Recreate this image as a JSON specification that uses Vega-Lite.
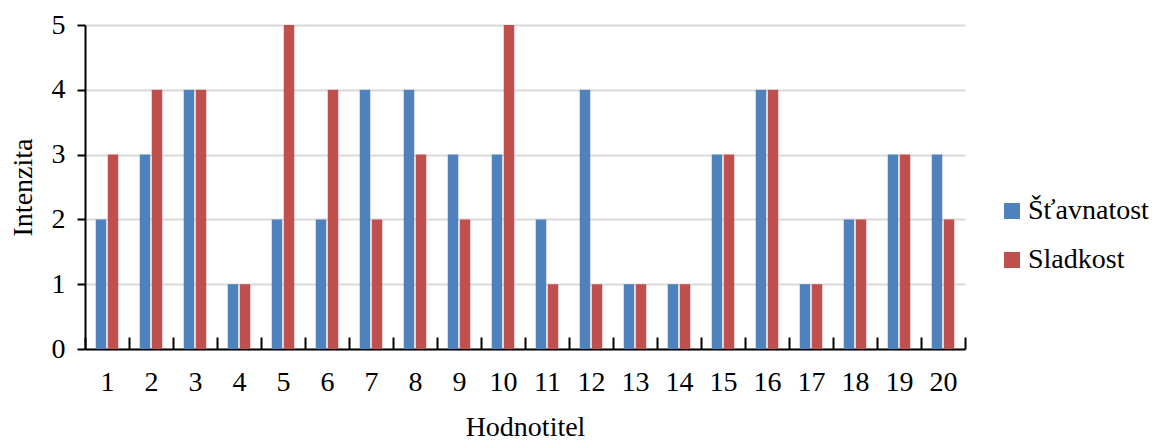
{
  "$schema": "https://vega.github.io/schema/vega-lite/v6.json",
  "autosize": {"type": "none"},
  "width": 880,
  "height": 324,
  "padding": {"left": 85, "top": 25, "right": 193, "bottom": 91},
  "background": "white",
  "config": {
    "font": "Liberation Serif",
    "view": {"stroke": null},
    "axis": {"labelFont": "Liberation Serif", "titleFont": "Liberation Serif"},
    "legend": {"labelFont": "Liberation Serif", "titleFont": "Liberation Serif"}
  },
  "data": {
    "values": [
      {"h": 1, "s": "Šťavnatost", "v": 2}, {"h": 1, "s": "Sladkost", "v": 3},
      {"h": 2, "s": "Šťavnatost", "v": 3}, {"h": 2, "s": "Sladkost", "v": 4},
      {"h": 3, "s": "Šťavnatost", "v": 4}, {"h": 3, "s": "Sladkost", "v": 4},
      {"h": 4, "s": "Šťavnatost", "v": 1}, {"h": 4, "s": "Sladkost", "v": 1},
      {"h": 5, "s": "Šťavnatost", "v": 2}, {"h": 5, "s": "Sladkost", "v": 5},
      {"h": 6, "s": "Šťavnatost", "v": 2}, {"h": 6, "s": "Sladkost", "v": 4},
      {"h": 7, "s": "Šťavnatost", "v": 4}, {"h": 7, "s": "Sladkost", "v": 2},
      {"h": 8, "s": "Šťavnatost", "v": 4}, {"h": 8, "s": "Sladkost", "v": 3},
      {"h": 9, "s": "Šťavnatost", "v": 3}, {"h": 9, "s": "Sladkost", "v": 2},
      {"h": 10, "s": "Šťavnatost", "v": 3}, {"h": 10, "s": "Sladkost", "v": 5},
      {"h": 11, "s": "Šťavnatost", "v": 2}, {"h": 11, "s": "Sladkost", "v": 1},
      {"h": 12, "s": "Šťavnatost", "v": 4}, {"h": 12, "s": "Sladkost", "v": 1},
      {"h": 13, "s": "Šťavnatost", "v": 1}, {"h": 13, "s": "Sladkost", "v": 1},
      {"h": 14, "s": "Šťavnatost", "v": 1}, {"h": 14, "s": "Sladkost", "v": 1},
      {"h": 15, "s": "Šťavnatost", "v": 3}, {"h": 15, "s": "Sladkost", "v": 3},
      {"h": 16, "s": "Šťavnatost", "v": 4}, {"h": 16, "s": "Sladkost", "v": 4},
      {"h": 17, "s": "Šťavnatost", "v": 1}, {"h": 17, "s": "Sladkost", "v": 1},
      {"h": 18, "s": "Šťavnatost", "v": 2}, {"h": 18, "s": "Sladkost", "v": 2},
      {"h": 19, "s": "Šťavnatost", "v": 3}, {"h": 19, "s": "Sladkost", "v": 3},
      {"h": 20, "s": "Šťavnatost", "v": 3}, {"h": 20, "s": "Sladkost", "v": 2}
    ]
  },
  "mark": {"type": "bar"},
  "encoding": {
    "x": {
      "field": "h", "type": "ordinal",
      "scale": {"paddingInner": 0, "paddingOuter": 0},
      "axis": {
        "title": "Hodnotitel", "titleFontSize": 28, "titleFontWeight": "normal", "titleColor": "black", "titlePadding": 17,
        "labelAngle": 0, "labelFontSize": 28, "labelColor": "black", "labelPadding": 31,
        "tickBand": "extent", "tickSize": -12, "tickColor": "black", "tickWidth": 2,
        "domainColor": "black", "domainWidth": 2, "grid": false
      }
    },
    "xOffset": {"field": "s", "sort": ["Šťavnatost", "Sladkost"], "scale": {"paddingInner": 0.125, "paddingOuter": 0.896}},
    "y": {
      "field": "v", "type": "quantitative",
      "scale": {"domain": [0, 5], "nice": false},
      "axis": {
        "title": "Intenzita", "titleFontSize": 28, "titleFontWeight": "normal", "titleColor": "black", "titlePadding": 14,
        "values": [0, 1, 2, 3, 4, 5], "labelFontSize": 28, "labelColor": "black", "labelPadding": 12,
        "tickSize": 8, "tickColor": "black", "tickWidth": 2,
        "domainColor": "black", "domainWidth": 2,
        "grid": true, "gridColor": "#d9d9d9", "gridWidth": 2
      }
    },
    "color": {
      "field": "s", "type": "nominal",
      "sort": ["Šťavnatost", "Sladkost"],
      "scale": {"domain": ["Šťavnatost", "Sladkost"], "range": ["#4F81BD", "#C0504D"]},
      "legend": {
        "title": null, "orient": "none", "legendX": 913, "legendY": 172,
        "symbolType": "square", "symbolSize": 256, "symbolStrokeWidth": 0,
        "labelFontSize": 28, "labelColor": "black", "labelOffset": 2, "rowPadding": 21
      }
    }
  }
}
